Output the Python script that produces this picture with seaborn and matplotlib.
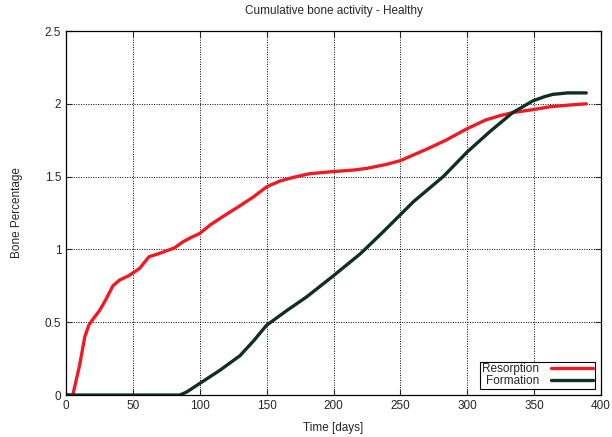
import matplotlib
matplotlib.use("Agg")
import matplotlib.pyplot as plt
import seaborn as sns
import pandas as pd

# Werte
res_days = [0, 5, 10, 14, 17, 20, 25, 30, 35, 40, 47, 55, 62, 69, 75, 81, 87, 93, 100, 108,
            118, 130, 140, 150, 160, 170, 182, 200, 215, 225, 240, 250, 260, 270, 284, 300,
            314, 325, 334, 349, 362, 374, 389]
res_vals = [0.0, 0.0, 0.2, 0.4, 0.48, 0.52, 0.58, 0.66, 0.75, 0.79, 0.82, 0.87, 0.95, 0.97,
            0.99, 1.01, 1.05, 1.08, 1.11, 1.17, 1.23, 1.30, 1.36, 1.43, 1.47, 1.495, 1.52,
            1.535, 1.545, 1.557, 1.585, 1.61, 1.65, 1.69, 1.75, 1.83, 1.89, 1.92, 1.94, 1.96,
            1.98, 1.99, 2.00]

form_days = [0, 80, 85, 90, 100, 115, 130, 140, 150, 165, 180, 200, 212, 220, 237, 260, 282,
             300, 317, 334, 349, 358, 364, 375, 389]
form_vals = [0.0, 0.0, 0.0, 0.02, 0.08, 0.17, 0.27, 0.37, 0.48, 0.58, 0.675, 0.82, 0.91, 0.97,
             1.12, 1.33, 1.50, 1.67, 1.81, 1.94, 2.02, 2.05, 2.065, 2.075, 2.075]

df = pd.concat([
    pd.DataFrame({"Time": res_days, "Value": res_vals, "Serie": "Resorption"}),
    pd.DataFrame({"Time": form_days, "Value": form_vals, "Serie": "Formation"}),
])

sns.set_style("ticks")
plt.rcParams["font.family"] = ["Liberation Sans", "DejaVu Sans"]

fig = plt.figure(figsize=(6.12, 4.37), dpi=100)
ax = fig.add_axes([0.108, 0.096, 0.874, 0.833])

sns.lineplot(data=df, x="Time", y="Value", hue="Serie", ax=ax, sort=False,
             palette={"Resorption": "#ed1c24", "Formation": "#0f3020"},
             linewidth=2.4, estimator=None)

ax.set_xlim(0, 400)
ax.set_ylim(0, 2.5)
ax.set_xticks(range(0, 401, 50))
ax.set_yticks([0, 0.5, 1, 1.5, 2, 2.5])
ax.set_yticklabels(["0", "0.5", "1", "1.5", "2", "2.5"])
ax.grid(True, linestyle=(0, (1, 1.5)), color="black", linewidth=0.7)
ax.tick_params(direction="in", top=True, right=True, labelsize=8.5, length=4, width=0.8)
for s in ax.spines.values():
    s.set_color("black")
    s.set_linewidth(0.9)

ax.set_title("Cumulative bone activity - Healthy", fontsize=8.5, pad=12)
ax.set_xlabel("Time [days]", fontsize=8.5, labelpad=7)
ax.set_ylabel("Bone Percentage", fontsize=8.5, labelpad=16)

leg = ax.legend(loc="lower right", markerfirst=False, fancybox=False, edgecolor="black",
                framealpha=1, fontsize=8.5, handlelength=3.6, borderpad=0.15,
                labelspacing=0.0, handletextpad=1.0, borderaxespad=0.5)
leg.get_frame().set_linewidth(0.8)
for t in leg.get_texts():
    t.set_ha("right")

fig.savefig("out.png", dpi=100)
